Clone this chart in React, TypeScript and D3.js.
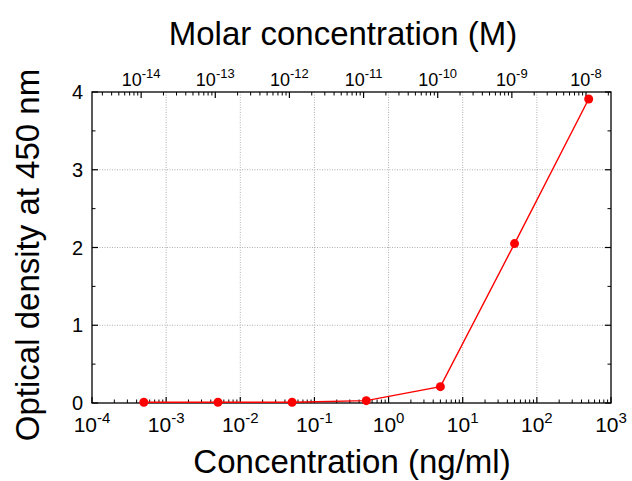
import React from "react";
import * as d3 from "d3";

const concentrations = [5e-4, 5e-3, 5e-2, 5e-1, 5, 50, 500];
const opticalDensity = [0.01, 0.01, 0.01, 0.03, 0.21, 2.05, 3.91];
const bottomTickExps = [-4, -3, -2, -1, 0, 1, 2, 3];
const topTickExps = [-14, -13, -12, -11, -10, -9, -8];
const yTicks = [0, 1, 2, 3, 4];
const molecularWeight = 46000; // g/mol

const W = 632, H = 481;
const M = { left: 92, right: 611, top: 92, bottom: 403 };
const FONT = "Liberation Sans, Arial, sans-serif";

export default function App() {
  const x = d3.scaleLog().domain([1e-4, 1e3]).range([M.left, M.right]);
  const y = d3.scaleLinear().domain([0, 4]).range([M.bottom, M.top]);
  // molar = conc(ng/ml) * 1e-6 / MW
  const molarToX = (m: number) => x(m * molecularWeight * 1e6);

  const minorBottom: number[] = [];
  for (let e = -4; e < 3; e++) for (let k = 2; k <= 9; k++) minorBottom.push(k * Math.pow(10, e));
  const minorTop: number[] = [];
  for (let e = -15; e <= -8; e++) for (let k = 2; k <= 9; k++) {
    const v = k * Math.pow(10, e);
    const px = molarToX(v);
    if (px > M.left + 0.5 && px < M.right - 0.5) minorTop.push(v);
  }
  const yMinor = d3.range(0.5, 4, 1);

  const line = d3.line<number>().x((d, i) => x(concentrations[i])).y((d) => y(d));
  const maj = 6, min = 3.5;

  return (
    <svg width={W} height={H} style={{ position: "absolute", left: 0, top: 0, background: "#fff" }} fontFamily={FONT}>
      <rect x={0} y={0} width={W} height={H} fill="#fff" />
      {/* grid */}
      {bottomTickExps.slice(1, -1).map((e) => (
        <line key={"gx" + e} x1={x(Math.pow(10, e))} x2={x(Math.pow(10, e))} y1={M.top} y2={M.bottom}
          stroke="#b0b0b0" strokeWidth={1} strokeDasharray="1,1.5" />
      ))}
      {yTicks.slice(1, -1).map((t) => (
        <line key={"gy" + t} x1={M.left} x2={M.right} y1={y(t)} y2={y(t)}
          stroke="#b0b0b0" strokeWidth={1} strokeDasharray="1,1.5" />
      ))}
      {/* frame */}
      <rect x={M.left} y={M.top} width={M.right - M.left} height={M.bottom - M.top} fill="none" stroke="#000" strokeWidth={1.3} />
      {/* bottom ticks */}
      {bottomTickExps.map((e) => {
        const px = x(Math.pow(10, e));
        return <line key={"bt" + e} x1={px} x2={px} y1={M.bottom} y2={M.bottom - maj} stroke="#000" strokeWidth={1.2} />;
      })}
      {minorBottom.map((v, i) => {
        const px = x(v);
        return <line key={"bm" + i} x1={px} x2={px} y1={M.bottom} y2={M.bottom - min} stroke="#000" strokeWidth={1} />;
      })}
      {/* top ticks */}
      {topTickExps.map((e) => {
        const px = molarToX(Math.pow(10, e));
        return <line key={"tt" + e} x1={px} x2={px} y1={M.top} y2={M.top + maj} stroke="#000" strokeWidth={1.2} />;
      })}
      {minorTop.map((v, i) => {
        const px = molarToX(v);
        return <line key={"tm" + i} x1={px} x2={px} y1={M.top} y2={M.top + min} stroke="#000" strokeWidth={1} />;
      })}
      {/* y ticks */}
      {yTicks.map((t) => (
        <g key={"yt" + t}>
          <line x1={M.left} x2={M.left + maj} y1={y(t)} y2={y(t)} stroke="#000" strokeWidth={1.2} />
          <line x1={M.right} x2={M.right - maj} y1={y(t)} y2={y(t)} stroke="#000" strokeWidth={1.2} />
        </g>
      ))}
      {yMinor.map((t) => (
        <g key={"ym" + t}>
          <line x1={M.left} x2={M.left + min} y1={y(t)} y2={y(t)} stroke="#000" strokeWidth={1} />
          <line x1={M.right} x2={M.right - min} y1={y(t)} y2={y(t)} stroke="#000" strokeWidth={1} />
        </g>
      ))}
      {/* bottom labels */}
      {bottomTickExps.map((e) => (
        <text key={"bl" + e} x={x(Math.pow(10, e))} y={432} textAnchor="middle" fontSize={21} fill="#000">
          10<tspan fontSize={15} dy={-9}>{e}</tspan>
        </text>
      ))}
      {/* top labels */}
      {topTickExps.map((e) => (
        <text key={"tl" + e} x={molarToX(Math.pow(10, e))} y={86} textAnchor="middle" fontSize={18} fill="#000">
          10<tspan fontSize={13} dy={-8}>{e}</tspan>
        </text>
      ))}
      {/* y labels */}
      {yTicks.map((t) => (
        <text key={"yl" + t} x={83} y={y(t) + 7} textAnchor="end" fontSize={20} fill="#000">{t}</text>
      ))}
      {/* titles */}
      <text x={352} y={473} textAnchor="middle" fontSize={33} fill="#000">Concentration (ng/ml)</text>
      <text x={343} y={45} textAnchor="middle" fontSize={33} fill="#000">Molar concentration (M)</text>
      <text transform={`translate(39,255) rotate(-90)`} textAnchor="middle" fontSize={33} fill="#000">
        Optical density at 450 nm
      </text>
      {/* data */}
      <path d={line(opticalDensity) || ""} fill="none" stroke="#ff0000" strokeWidth={1.4} />
      {opticalDensity.map((v, i) => (
        <circle key={"pt" + i} cx={x(concentrations[i])} cy={y(v)} r={4.5} fill="#ff0000" />
      ))}
    </svg>
  );
}
